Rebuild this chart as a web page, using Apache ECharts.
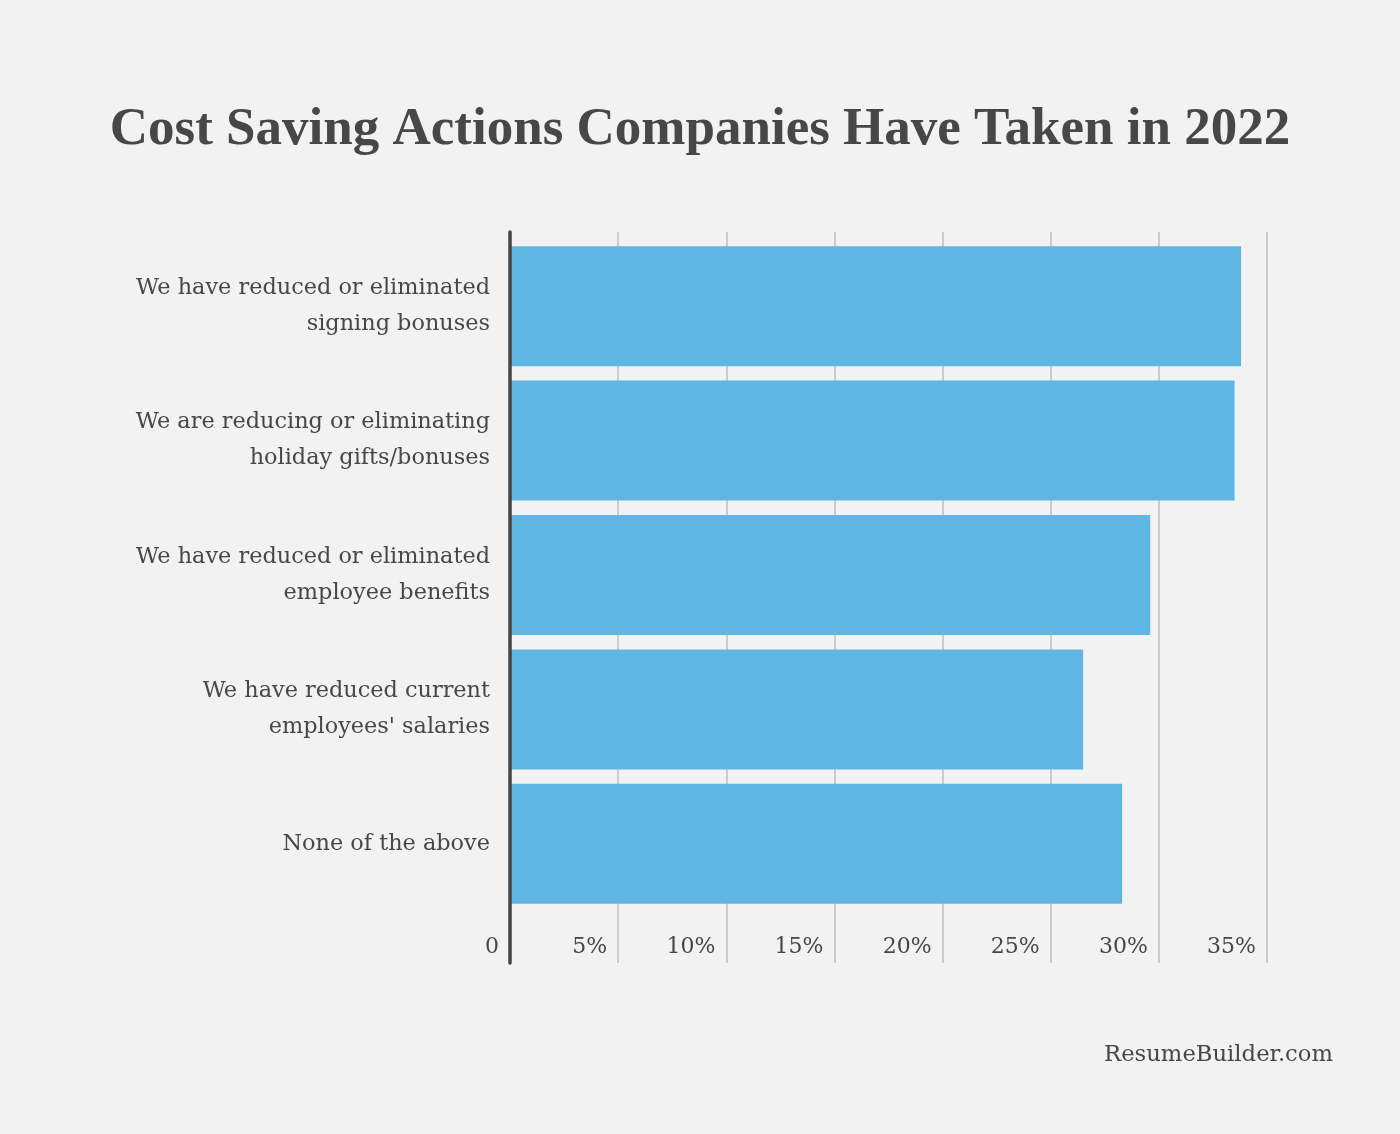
<!DOCTYPE html>
<html>
<head>
<meta charset="utf-8">
<script src="https://cdn.jsdelivr.net/npm/echarts@6/dist/echarts.min.js"></script>
<style>
  html, body { margin: 0; padding: 0; background: #f2f2f2; }
  #chart { width: 1400px; height: 1134px; }
</style>
</head>
<body>
<div id="chart"></div>
<script>
const categories = [
    'We have reduced or eliminated\nsigning bonuses',
    'We are reducing or eliminating\nholiday gifts/bonuses',
    'We have reduced or eliminated\nemployee benefits',
    'We have reduced current\nemployees\' salaries',
    'None of the above'
]
const values = [33.8, 33.5, 29.6, 26.5, 28.3]
const tickLabels = ['0', '5%', '10%', '15%', '20%', '25%', '30%', '35%']

const fontFam = 'DejaVu Serif'
const textColor = '#474747'

let myChart = echarts.init(document.getElementById('chart'), null, { renderer: 'canvas' })

myChart.setOption({
    backgroundColor: '#f2f2f2',
    animation: false,
    title: {
        text: 'Cost Saving Actions Companies Have Taken in 2022',
        left: 'center',
        top: 99,
        textStyle: { fontFamily: 'Liberation Serif', fontWeight: 'bold', fontSize: 53, color: textColor }
    },
    graphic: [{
        type: 'text',
        right: 67,
        top: 1044,
        style: { text: 'ResumeBuilder.com', font: '22.7px "DejaVu Serif"', fill: textColor }
    }],
    grid: [
        // background grid with vertical lines and tick labels
        { left: 510, top: 232, width: 757, height: 731 },
        // bars
        { left: 510, top: 239, width: 757, height: 672 }
    ],
    xAxis: [
        {
            gridIndex: 0, type: 'value', min: 0, max: 35, interval: 5,
            axisLine: { show: false }, axisTick: { show: false },
            splitLine: { show: true, lineStyle: { color: '#cccccc', width: 2 } },
            axisLabel: {
                inside: true, margin: 5, align: 'right', padding: [0, 11, 0, 0],
                fontFamily: fontFam, fontSize: 22, color: textColor,
                formatter: (v) => tickLabels[Math.round(v / 5)]
            }
        },
        { gridIndex: 1, type: 'value', min: 0, max: 35, show: false }
    ],
    yAxis: [
        {
            gridIndex: 0, type: 'value', z: 10,
            axisLine: { show: true, lineStyle: { color: '#444444', width: 3.5 } },
            axisTick: { show: false }, axisLabel: { show: false }, splitLine: { show: false }
        },
        {
            gridIndex: 1, type: 'category', inverse: true, data: categories,
            axisLine: { show: false }, axisTick: { show: false },
            axisLabel: {
                margin: 20, align: 'right', fontFamily: fontFam, fontSize: 22.4,
                lineHeight: 36, color: textColor, padding: [4, 0, 0, 0]
            }
        }
    ],
    series: [{
        type: 'bar',
        xAxisIndex: 1,
        yAxisIndex: 1,
        data: values,
        barCategoryGap: '10.7%',
        itemStyle: { color: '#5fb6e4' },
        z: 2
    }]
})
</script>
</body>
</html>
